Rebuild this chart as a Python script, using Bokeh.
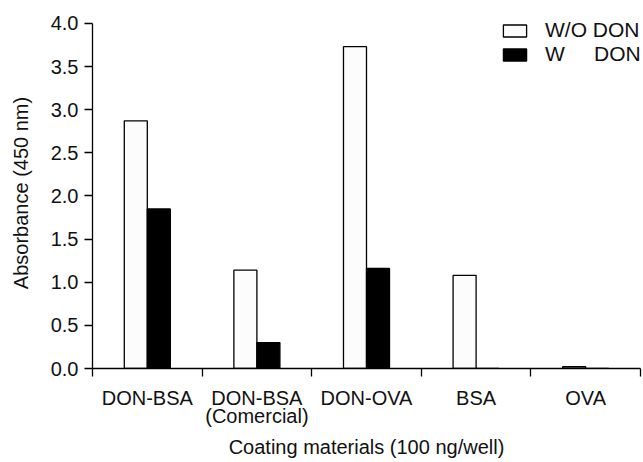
from bokeh.plotting import figure
from bokeh.models import (Range1d, LinearAxis, FixedTicker, PrintfTickFormatter, Legend,
                          ColumnDataSource)
from bokeh.transform import dodge
from bokeh.embed import file_html
from bokeh.resources import INLINE

categories = ["DON-BSA", "DON-BSA\n(Comercial)", "DON-OVA", "BSA", "OVA"]
without_don = [2.87, 1.14, 3.73, 1.08, 0.02]
with_don = [1.85, 0.30, 1.16, 0.0, 0.0]
y_ticks = [0.0, 0.5, 1.0, 1.5, 2.0, 2.5, 3.0, 3.5, 4.0]
series_names = ["W/O DON", "W\u00a0\u00a0\u00a0\u00a0\u00a0DON"]

FONT = "Liberation Sans"
FS = "20px"

n = len(categories)
centers = [i + 0.5 for i in range(n)]
boundaries = list(range(n + 1))

p = figure(width=642, height=461, output_backend="svg", toolbar_location=None,
           x_range=Range1d(0, n), y_range=Range1d(0, 4.068),
           x_axis_location=None, y_axis_location=None,
           min_border_left=92, min_border_right=2, min_border_top=17, min_border_bottom=86)
p.outline_line_color = None
p.grid.visible = False
p.background_fill_color = "white"
p.border_fill_color = "white"

src = ColumnDataSource(dict(x=centers, wo=without_don, w=with_don))
r1 = p.vbar(x=dodge("x", -0.105), top="wo", width=0.21, source=src,
            fill_color="#fcfcfc", line_color="black", line_width=1.3)
r2 = p.vbar(x=dodge("x", 0.105), top="w", width=0.21, source=src,
            fill_color="black", line_color="black", line_width=1.3)

# y axis
yax = LinearAxis(ticker=FixedTicker(ticks=y_ticks), formatter=PrintfTickFormatter(format="%.1f"),
                 axis_label="Absorbance (450 nm)", bounds=(y_ticks[0], y_ticks[-1]))
yax.minor_tick_line_color = None
yax.major_tick_in = 0
yax.major_tick_out = 8
yax.major_label_standoff = 6
yax.axis_label_standoff = 16
yax.axis_line_width = 1.3
yax.major_tick_line_width = 1.3
p.add_layout(yax, "left")

# x axis: labels at category centres, boundary ticks as minor ticks
xc = LinearAxis(ticker=FixedTicker(ticks=centers, minor_ticks=boundaries),
                axis_label="Coating materials (100 ng/well)")
xc.major_label_overrides = {c: lab for c, lab in zip(centers, categories)}
xc.major_tick_line_color = None
xc.major_tick_in = 0
xc.major_tick_out = 0
xc.minor_tick_in = 0
xc.minor_tick_out = 8
xc.minor_tick_line_width = 1.3
xc.minor_tick_line_color = "black"
xc.axis_line_width = 1.3
xc.major_label_standoff = 10
xc.major_label_text_line_height = 0.85
xc.axis_label_standoff = 6
p.add_layout(xc, "below")

for ax in [yax, xc]:
    ax.major_label_text_font = FONT
    ax.major_label_text_font_size = FS
    ax.major_label_text_color = "#111111"
    ax.axis_label_text_font = FONT
    ax.axis_label_text_font_size = FS
    ax.axis_label_text_font_style = "normal"
    ax.axis_label_text_color = "#111111"

legend = Legend(items=[(series_names[0], [r1]), (series_names[1], [r2])], location=(408, 302))
legend.margin = 0
legend.padding = 0
legend.spacing = -3
legend.border_line_color = None
legend.background_fill_alpha = 0
legend.glyph_width = 29
legend.glyph_height = 15
legend.label_height = 24
legend.label_standoff = 16
legend.label_text_font = FONT
legend.label_text_font_size = "21px"
legend.label_text_color = "#111111"
p.add_layout(legend)

open("out.html", "w").write(file_html(p, INLINE))
